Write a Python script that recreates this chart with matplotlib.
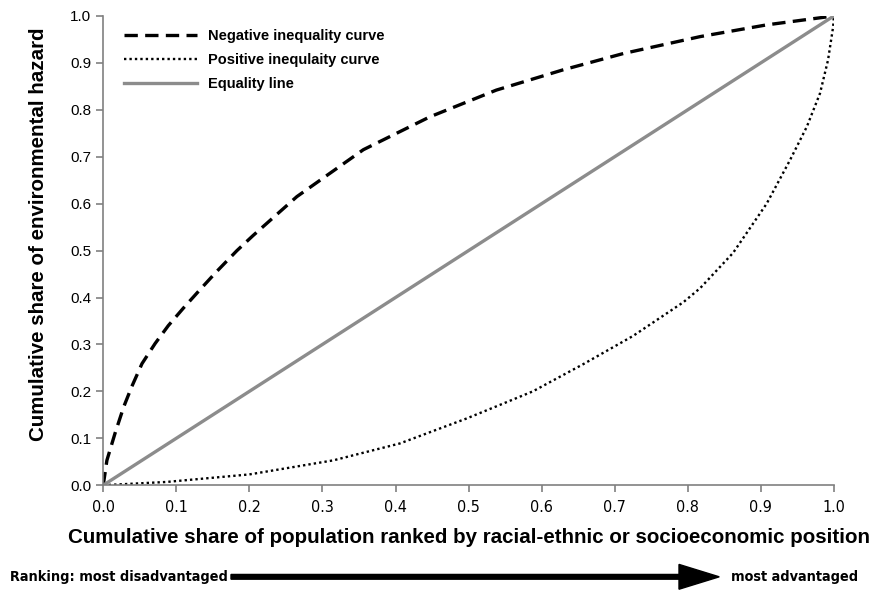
import matplotlib.pyplot as plt
from matplotlib.patches import FancyArrow

plt.rcParams['font.family'] = ['Liberation Sans', 'DejaVu Sans']

# values
neg_x = [0.0, 0.005, 0.016, 0.028, 0.039, 0.053, 0.071, 0.089, 0.110, 0.132,
         0.155, 0.183, 0.205, 0.265, 0.356, 0.447, 0.538, 0.629, 0.712,
         0.817, 0.908, 1.0]
neg_y = [0.0, 0.053, 0.11, 0.167, 0.21, 0.259, 0.302, 0.340, 0.378, 0.416,
         0.455, 0.50, 0.532, 0.615, 0.715, 0.785, 0.842, 0.885, 0.92,
         0.956, 0.981, 1.0]

pos_x = [0.0, 0.087, 0.2, 0.315, 0.406, 0.497, 0.538, 0.588, 0.657, 0.725,
         0.794, 0.817, 0.862, 0.908, 0.940, 0.963, 0.981, 0.992, 0.999, 1.0]
pos_y = [0.0, 0.007, 0.023, 0.053, 0.089, 0.142, 0.168, 0.20, 0.258, 0.318,
         0.39, 0.42, 0.495, 0.60, 0.693, 0.764, 0.835, 0.906, 0.977, 1.0]

eq_x = [0.0, 1.0]
eq_y = [0.0, 1.0]

ticks = [0.0, 0.1, 0.2, 0.3, 0.4, 0.5, 0.6, 0.7, 0.8, 0.9, 1.0]
tick_labels = ['%.1f' % t for t in ticks]

narrow = ['Liberation Sans Narrow', 'DejaVu Sans']

fig = plt.figure(figsize=(8.75, 5.91), dpi=100)
ax = fig.add_axes([0.118, 0.179, 0.835, 0.794])

ax.plot(neg_x, neg_y, c='black', linestyle=(0, (4, 2.2)), lw=2.4,
        label='Negative inequality curve')
ax.plot(pos_x, pos_y, c='black', linestyle=(0, (1, 1.3)), lw=1.7,
        label='Positive inequlaity curve')
ax.plot(eq_x, eq_y, c='#8c8c8c', lw=2.4, label='Equality line')

ax.set_xlim(0, 1)
ax.set_ylim(0, 1)
ax.set_xticks(ticks)
ax.set_xticklabels(tick_labels, fontsize=11.5, family=narrow, stretch='condensed')
ax.set_yticks(ticks)
ax.set_yticklabels(tick_labels, fontsize=11)

for s in ['top', 'right']:
    ax.spines[s].set_visible(False)
for s in ['left', 'bottom']:
    ax.spines[s].set_color('#808080')
    ax.spines[s].set_linewidth(1.2)
ax.tick_params(direction='out', length=5, color='#808080', width=1.2)
ax.tick_params(axis='x', pad=6)

ax.set_ylabel('Cumulative share of environmental hazard', fontsize=14.8,
              fontweight='bold', labelpad=10)
ax.yaxis.set_label_coords(-0.075, 0.535)
ax.set_xlabel('Cumulative share of population ranked by racial-ethnic or socioeconomic position',
              fontsize=14.8, fontweight='bold', labelpad=9)

leg = ax.legend(loc='upper left', frameon=False, handlelength=5.0,
                bbox_to_anchor=(0.01, 1.0), labelspacing=0.7,
                prop={'weight': 'bold', 'size': 10.5})

fig.text(0.012, 0.024, 'Ranking: most disadvantaged', fontsize=10.4,
         fontweight='bold', family=narrow, stretch='condensed', va='center')
fig.text(0.835, 0.024, 'most advantaged', fontsize=10.4,
         fontweight='bold', family=narrow, stretch='condensed', va='center')
fig.patches.append(FancyArrow(
    0.264, 0.024, 0.558, 0.0, width=0.008, head_width=0.042, head_length=0.046,
    length_includes_head=True, color='black', transform=fig.transFigure, figure=fig))

plt.savefig('out.png')
